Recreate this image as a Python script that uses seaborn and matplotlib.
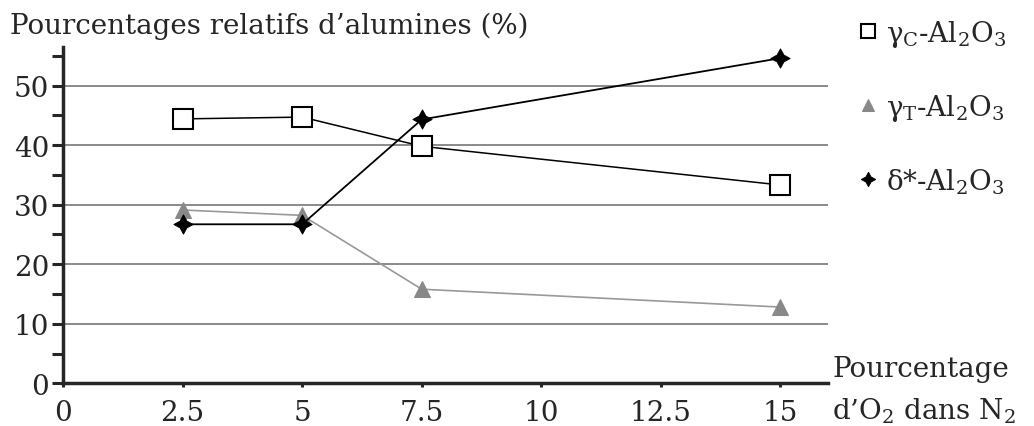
import numpy as np
import pandas as pd
import seaborn as sns
import matplotlib.pyplot as plt

# donnees
o2 = [2.5, 5, 7.5, 15]
gamma_c = [44.4, 44.7, 39.8, 33.3]
gamma_t = [29.1, 28.2, 15.8, 12.8]
delta = [26.7, 26.7, 44.3, 54.6]

sns.set_style("white")
plt.rcParams['font.family'] = ['DejaVu Serif']
plt.rcParams['mathtext.fontset'] = 'dejavuserif'

fs = 20

fig = plt.figure(figsize=(10.34, 4.27), dpi=100)
ax = fig.add_axes([0.061, 0.100, 0.740, 0.788])

sns.lineplot(x=o2, y=gamma_c, ax=ax, color='black', lw=1.1, marker='s', ms=14,
             mfc='white', mec='black', mew=1.5, label='γ$_\\mathrm{C}$-Al$_2$O$_3$')
sns.lineplot(x=o2, y=gamma_t, ax=ax, color='#999999', lw=1.2, marker='^', ms=12,
             mfc='#888888', mec='#888888', label='γ$_\\mathrm{T}$-Al$_2$O$_3$')
sns.lineplot(x=o2, y=delta, ax=ax, color='black', lw=1.3, marker=(4, 1, 0), ms=14,
             mfc='black', mec='black', mew=0.6, label='δ*-Al$_2$O$_3$')

ax.set_xlim(0, 16)
ax.set_ylim(0, 56.5)
ax.set_xticks([0, 2.5, 5, 7.5, 10, 12.5, 15])
ax.set_xticklabels(['0', '2.5', '5', '7.5', '10', '12.5', '15'])
ax.set_yticks(np.arange(0, 51, 10))
ax.set_yticks(np.arange(5, 56, 10), minor=True)

for v in range(10, 51, 10):
    ax.axhline(v, color='#8a8a8a', lw=1.4, zorder=0)

for s in ['top', 'right']:
    ax.spines[s].set_visible(False)
ax.spines['left'].set_linewidth(2.5)
ax.spines['bottom'].set_linewidth(2.5)
ax.tick_params(axis='y', which='both', direction='out', length=8, width=2.2,
               labelsize=fs, pad=2, left=True)
ax.tick_params(axis='x', direction='out', length=3, width=2.2, labelsize=fs,
               pad=8, bottom=True)

fig.text(0.010, 0.920, 'Pourcentages relatifs d\u2019alumines (%)', fontsize=fs,
         ha='left', va='baseline')
fig.text(0.805, 0.117, 'Pourcentage', fontsize=fs, ha='left', va='baseline')
fig.text(0.805, 0.017, 'd\u2019O$_2$ dans N$_2$', fontsize=fs, ha='left',
         va='baseline')

leg = ax.legend(loc='upper left', bbox_to_anchor=(1.005, 1.16), frameon=False,
                fontsize=fs, handlelength=0.8, handletextpad=0.25,
                labelspacing=1.55, markerscale=0.75)
for h in leg.get_lines():
    h.set_linestyle('none')

fig.savefig('out.png', dpi=100)
